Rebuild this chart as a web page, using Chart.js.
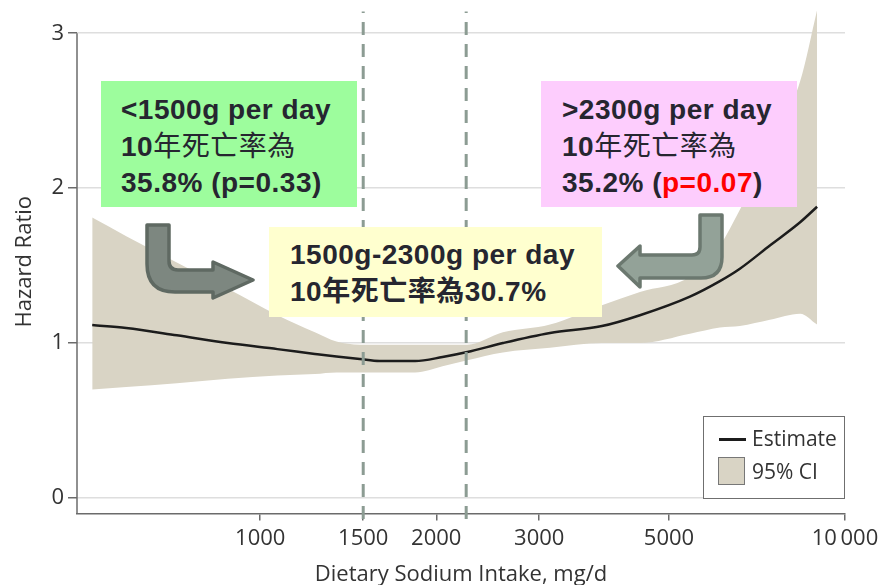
<!DOCTYPE html>
<html>
<head>
<meta charset="utf-8">
<script src="https://cdn.jsdelivr.net/npm/chart.js@4/dist/chart.umd.min.js"></script>
<style>
body { margin: 0; background: #fff; }
#wrap { position: relative; width: 881px; height: 585px; }
#chart { position: absolute; left: 0; top: 0; }
.note {
    position: absolute; box-sizing: border-box; white-space: nowrap;
    font: bold 28px "Liberation Sans", Arial, "Noto Sans CJK TC", sans-serif;
    color: #262630; line-height: 36.5px; letter-spacing: 0.5px;
}
.note .cjk { font-weight: normal; }
#green { left: 101px; top: 81px; width: 256px; height: 126px; background: #9dfd9d; padding: 11px 0 0 20px; }
#pink { left: 541px; top: 81px; width: 256px; height: 126px; background: #fdcdfd; padding: 11px 0 0 21px; }
#yellow { left: 269px; top: 227px; width: 333px; height: 90px; background: #ffffcf; padding: 9px 0 0 21px; line-height: 37px; }
.red { color: #ff0000; }
#arrows { position: absolute; left: 0; top: 0; }
#legend {
    position: absolute; left: 703px; top: 416px; width: 142px; height: 83px; box-sizing: border-box;
    border: 1px solid #6f6f6f; background: #fff;
    font: 21px "Open Sans", sans-serif; color: #333;
}
#legend .row { position: absolute; left: 48px; line-height: 26px; }
#legend .swline { position: absolute; left: 15px; top: 21px; width: 27px; height: 2.5px; background: #1c1c1c; }
#legend .swbox { position: absolute; left: 14px; top: 40px; width: 27px; height: 28px; box-sizing: border-box; background: #d9d4c5; border: 1px solid #777; }
</style>
</head>
<body>
<div id="wrap">
    <canvas id="chart" width="881" height="585"></canvas>
    <div class="note" id="green">&lt;1500g per day<br>10<span class="cjk">年死亡率為</span><br>35.8% (p=0.33)</div>
    <div class="note" id="pink">&gt;2300g per day<br>10<span class="cjk">年死亡率為</span><br>35.2% (<span class="red">p=0.07</span>)</div>
    <div class="note" id="yellow">1500g-2300g per day<br>10年死亡率為30.7%</div>
    <svg id="arrows" width="881" height="585">
        <path d="M147 225 L169 225 L169 261 Q169 270 178 270 L213 270 L213 262 L253 280 L213 298 L213 292 L175 292 Q147 292 147 264 Z"
              fill="#7d8780" stroke="#5f6962" stroke-width="3.5" stroke-linejoin="round"/>
        <path d="M700 215 L722 215 L722 257 Q722 278 701 278 L640 278 L640 287 L618 266 L640 246 L640 255 L692 255 Q700 255 700 247 Z"
              fill="#93a298" stroke="#6b786f" stroke-width="3.5" stroke-linejoin="round"/>
    </svg>
    <div id="legend">
        <div class="swline"></div>
        <div class="row" style="top:8px">Estimate</div>
        <div class="swbox"></div>
        <div class="row" style="top:41px">95% CI</div>
    </div>
</div>
<script>
// sodium intake (mg/d) and hazard ratio
var sodium    = [516, 590, 720, 880, 1070, 1240, 1350, 1480, 1600, 1840, 2050, 2260, 2600, 3130, 3840, 4460, 5430, 6110, 6610, 7440, 8380, 8960];
var estimate  = [1.116, 1.097, 1.05, 1.0, 0.961, 0.93, 0.913, 0.897, 0.884, 0.884, 0.91, 0.942, 1.0, 1.065, 1.11, 1.18, 1.30, 1.40, 1.48, 1.63, 1.78, 1.88];
var ciUpper   = [1.81, 1.69, 1.52, 1.35, 1.18, 1.07, 1.01, 0.99, 0.99, 0.99, 0.99, 0.99, 1.07, 1.12, 1.245, 1.33, 1.43, 1.63, 1.86, 2.25, 2.69, 3.15];
var ciLower   = [0.70, 0.716, 0.74, 0.77, 0.79, 0.80, 0.81, 0.81, 0.81, 0.81, 0.85, 0.89, 0.94, 0.97, 1.0, 1.0, 1.06, 1.10, 1.11, 1.15, 1.19, 1.12];
var cutoffs   = [1500, 2250];
var xTicks    = [1000, 1500, 2000, 3000, 5000, 10000];
var yTicks    = [0, 1, 2, 3];

var axisColor = '#6b6b6b';
var textColor = '#333';
var axisFont = {family: "'Open Sans', sans-serif", size: 22};

function toPoints(ys) {
    return sodium.map(function(x, i) { return {x: x, y: ys[i]}; });
}

function cutLine(v) {
    return {
        data: [{x: v, y: -0.135}, {x: v, y: 3.14}],
        borderColor: '#8c9c93',
        borderWidth: 3,
        borderDash: [13, 9],
        pointRadius: 0,
        fill: false,
        clip: false
    };
}

// y axis line only runs from the bottom up to the 3 tick
var yAxisLine = {
    id: 'yAxisLine',
    beforeDatasetsDraw: function(chart) {
        var ctx = chart.ctx;
        var y = chart.scales.y;
        ctx.save();
        ctx.strokeStyle = axisColor;
        ctx.lineWidth = 1.5;
        ctx.beginPath();
        ctx.moveTo(chart.chartArea.left, y.getPixelForValue(3));
        ctx.lineTo(chart.chartArea.left, chart.chartArea.bottom);
        ctx.stroke();
        ctx.restore();
    }
};

var datasets = [
    cutLine(cutoffs[0]),
    cutLine(cutoffs[1]),
    {
        label: 'Estimate',
        data: toPoints(estimate),
        borderColor: '#1c1c1c',
        borderWidth: 2.5,
        pointRadius: 0,
        cubicInterpolationMode: 'monotone',
        fill: false
    },
    {
        label: '95% CI',
        data: toPoints(ciUpper),
        borderColor: 'rgba(0,0,0,0)',
        backgroundColor: '#d9d4c5',
        pointRadius: 0,
        cubicInterpolationMode: 'monotone',
        fill: '+1'
    },
    {
        label: 'lower',
        data: toPoints(ciLower),
        borderColor: 'rgba(0,0,0,0)',
        pointRadius: 0,
        cubicInterpolationMode: 'monotone',
        fill: false
    }
];

var config = {
    type: 'line',
    data: {datasets: datasets},
    plugins: [yAxisLine],
    options: {
        responsive: false,
        animation: false,
        layout: {padding: {left: 0, right: 36, top: 10, bottom: 0}},
        plugins: {
            legend: {display: false},
            tooltip: {enabled: false}
        },
        scales: {
            x: {
                type: 'logarithmic',
                min: 486,
                max: 10000,
                afterBuildTicks: function(s) { s.ticks = xTicks.map(function(v) { return {value: v}; }); },
                afterFit: function(s) { s.height = 71.5; s.paddingLeft = 0; s.paddingRight = 0; },
                grid: {drawOnChartArea: false, drawTicks: true, tickLength: 7, color: axisColor, lineWidth: 1.5},
                border: {color: axisColor, width: 1.5},
                ticks: {
                    autoSkip: false, maxRotation: 0, padding: 5, color: textColor, font: axisFont,
                    callback: function(v) { return v === 10000 ? '10\u2009000' : String(v); }
                },
                title: {display: true, text: 'Dietary Sodium Intake, mg/d', color: textColor, font: axisFont, padding: {top: 0, bottom: -3}}
            },
            y: {
                type: 'linear',
                min: -0.1,
                max: 3.15,
                afterBuildTicks: function(s) { s.ticks = yTicks.map(function(v) { return {value: v}; }); },
                afterFit: function(s) { s.width = 77; s.paddingTop = 0; s.paddingBottom = 0; },
                grid: {color: '#dedede', lineWidth: 1.5, tickColor: axisColor, tickLength: 9},
                border: {display: false},
                ticks: {padding: 4, color: textColor, font: axisFont},
                title: {display: true, text: 'Hazard Ratio', color: textColor, font: axisFont, padding: {top: 12, bottom: 0}}
            }
        }
    }
};

new Chart(document.getElementById('chart'), config);
</script>
</body>
</html>
